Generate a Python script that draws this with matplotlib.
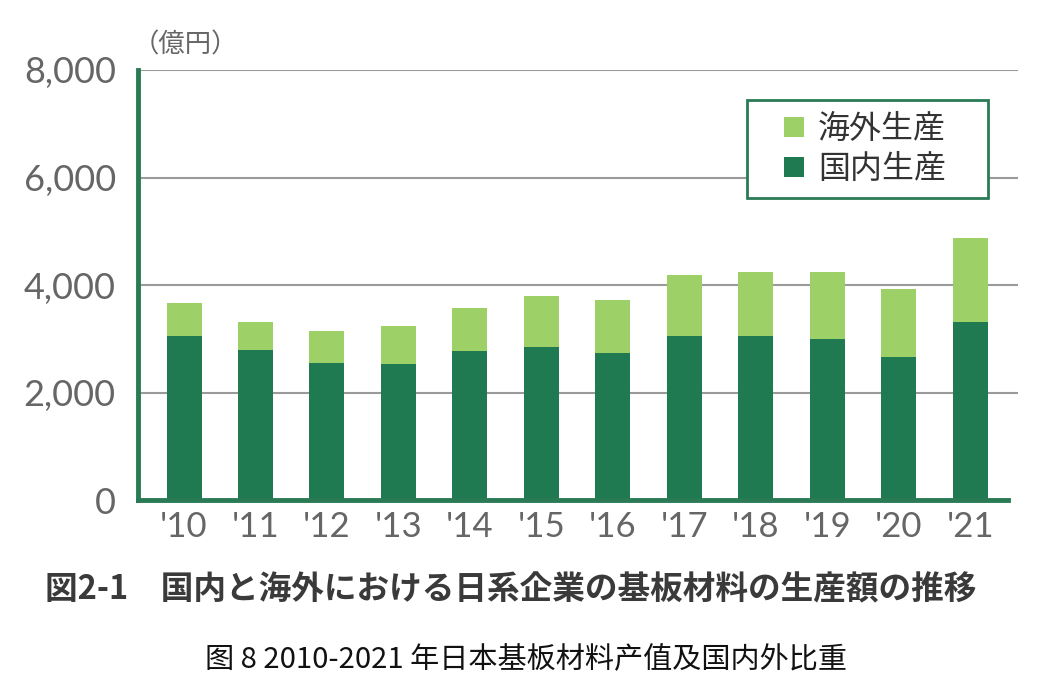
import matplotlib
matplotlib.use("Agg")
import matplotlib.pyplot as plt
from matplotlib.patches import Patch, Rectangle
import numpy as np

plt.rcParams['font.family'] = ['Noto Sans CJK JP', 'DejaVu Sans']

years = ["'10", "'11", "'12", "'13", "'14", "'15", "'16", "'17", "'18", "'19", "'20", "'21"]
domestic = [3060, 2790, 2540, 2530, 2770, 2850, 2730, 3050, 3050, 3000, 2665, 3315]
overseas = [600, 515, 605, 705, 810, 945, 990, 1135, 1185, 1235, 1260, 1555]
yticks = [0, 2000, 4000, 6000, 8000]
ytick_labels = ["0", "2,000", "4,000", "6,000", "8,000"]

DARK = "#1f7a52"
LIGHT = "#9dd067"
SPINE = "#2a7a55"
GRAY = "#666666"

W, H = 1052, 698
fig = plt.figure(figsize=(W / 100, H / 100), dpi=100)
ax = fig.add_axes([138 / W, (H - 500) / H, 880 / W, 430 / H])

x = np.arange(len(years))
ax.bar(x, domestic, width=0.49, color=DARK, zorder=3)
ax.bar(x, overseas, width=0.49, bottom=domestic, color=LIGHT, zorder=3)

ax.set_xlim(-0.644, 11.67)
ax.set_ylim(0, 8000)
ax.set_yticks(yticks)
ax.set_yticklabels(ytick_labels, family=['Lato', 'DejaVu Sans'], fontsize=26, color=GRAY)
ax.set_xticks(x)
ax.set_xticklabels(years, family=['Lato', 'DejaVu Sans'], fontsize=25, color=GRAY)
ax.tick_params(axis='both', length=0)
ax.tick_params(axis='y', pad=16)
ax.tick_params(axis='x', pad=8)

for yv in yticks[1:]:
    ax.axhline(yv, color="#9a9a9a", lw=1.5, zorder=1)

for s in ["top", "right"]:
    ax.spines[s].set_visible(False)
ax.spines["left"].set_color(SPINE)
ax.spines["left"].set_linewidth(3.5)
ax.spines["bottom"].set_color(SPINE)
ax.spines["bottom"].set_linewidth(3.5)
ax.spines["bottom"].set_bounds(-0.644, 11.53)
ax.spines["bottom"].set_zorder(4)

fig.text(133 / W, 1 - 45 / H, "（億円）", fontsize=19, color=GRAY,
         ha='left', va='center')

# legend frame
ax.add_patch(Rectangle((0.692, 0.702), 0.274, 0.228, transform=ax.transAxes,
                       facecolor='white', edgecolor=SPINE, lw=2, zorder=5))
handles = [Patch(facecolor=LIGHT, edgecolor='none', label="海外生産"),
           Patch(facecolor=DARK, edgecolor='none', label="国内生産")]
leg = ax.legend(handles=handles, loc='center', bbox_to_anchor=(0.826, 0.816),
                fontsize=23, frameon=False, handlelength=0.62,
                handleheight=0.62, handletextpad=0.45, borderpad=0,
                labelspacing=0.25, borderaxespad=0)
leg.set_zorder(6)
for t in leg.get_texts():
    t.set_color("#333333")

fig.text(45 / W, 1 - 590 / H, "図2-1　国内と海外における日系企業の基板材料の生産額の推移",
         fontsize=23.5, fontweight='bold', color="#3a3a3a", ha='left', va='center')
fig.text(0.5, 1 - 660 / H, "图 8 2010-2021 年日本基板材料产值及国内外比重",
         family=['Noto Sans CJK SC', 'DejaVu Sans'], fontsize=21, color="#111111",
         ha='center', va='center')

fig.savefig("out.png", dpi=100)
